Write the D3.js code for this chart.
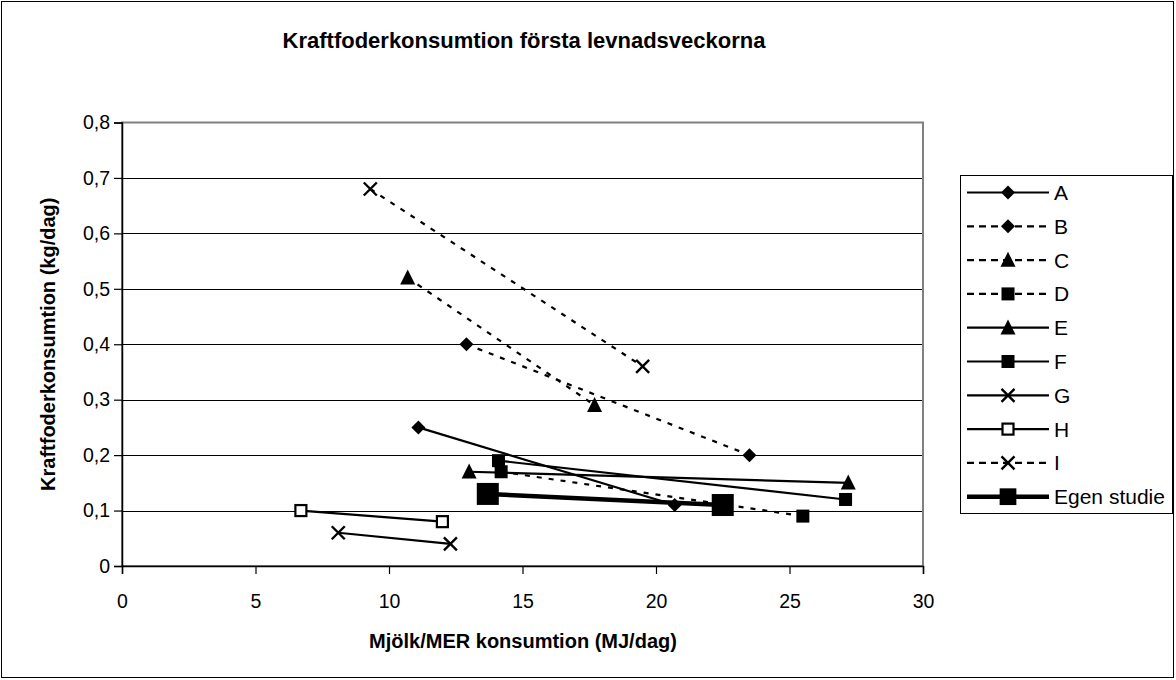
<!DOCTYPE html>
<html>
<head>
<meta charset="utf-8">
<script src="https://cdn.jsdelivr.net/npm/d3@7"></script>
<style>
  html, body { margin: 0; padding: 0; background: #fff; }
  svg { display: block; font-family: "Liberation Sans", Arial, sans-serif; }
</style>
</head>
<body>
<svg id="chart" width="1176" height="680"></svg>
<script>
// ---------- data ----------
const seriesNames = ["A", "B", "C", "D", "E", "F", "G", "H", "I", "Egen studie"];
const seriesX = [
  [11.1, 20.7],
  [12.9, 23.5],
  [10.7, 17.7],
  [14.2, 25.5],
  [13.0, 27.2],
  [14.1, 27.1],
  [8.1, 12.3],
  [6.7, 12.0],
  [9.3, 19.5],
  [13.7, 22.5]
];
const seriesY = [
  [0.25, 0.11],
  [0.40, 0.20],
  [0.52, 0.29],
  [0.17, 0.09],
  [0.17, 0.15],
  [0.19, 0.12],
  [0.06, 0.04],
  [0.10, 0.08],
  [0.68, 0.36],
  [0.13, 0.11]
];
const xTicks = [0, 5, 10, 15, 20, 25, 30];
const yTicks = [0, 0.1, 0.2, 0.3, 0.4, 0.5, 0.6, 0.7, 0.8];
const yTickLabels = ["0", "0,1", "0,2", "0,3", "0,4", "0,5", "0,6", "0,7", "0,8"];
const titleText = "Kraftfoderkonsumtion första levnadsveckorna";
const xTitle = "Mjölk/MER konsumtion (MJ/dag)";
const yTitle = "Kraftfoderkonsumtion (kg/dag)";

// ---------- styles (not data) ----------
const markerType = ["diamond", "diamond", "triangle", "square", "triangle", "square", "cross", "hollowSquare", "cross", "bigSquare"];
const dashed = [false, true, true, true, false, false, false, false, true, false];
const FONT = "'Liberation Sans', Arial, sans-serif";

// ---------- layout ----------
const svg = d3.select("#chart");
const plot = { left: 122, top: 122.5, right: 923, bottom: 566 };

const x = d3.scaleLinear().domain([0, 30]).range([plot.left, plot.right]);
const y = d3.scaleLinear().domain([0, 0.8]).range([plot.bottom, plot.top]);

// outer frame
svg.append("rect").attr("x", 1.5).attr("y", 1.5).attr("width", 1172).attr("height", 676)
  .attr("fill", "#fff").attr("stroke", "#000").attr("stroke-width", 1);

// title
svg.append("text").attr("x", 524).attr("y", 48).attr("text-anchor", "middle")
  .attr("font-size", 22).attr("font-weight", "bold").text(titleText);

// gridlines
svg.append("g").selectAll("line").data(yTicks.filter(d => d > 0 && d < 0.8)).join("line")
  .attr("x1", plot.left).attr("x2", plot.right)
  .attr("y1", d => Math.round(y(d)) + 0.5).attr("y2", d => Math.round(y(d)) + 0.5)
  .attr("stroke", "#000").attr("stroke-width", 1.2);

// plot border (grey)
svg.append("rect").attr("x", plot.left).attr("y", plot.top)
  .attr("width", plot.right - plot.left).attr("height", plot.bottom - plot.top)
  .attr("fill", "none").attr("stroke", "#808080").attr("stroke-width", 2);

// axes
const yAxis = d3.axisLeft(y).tickValues(yTicks)
  .tickFormat((d, i) => yTickLabels[i]).tickSize(8).tickPadding(4);
const gy = svg.append("g").attr("transform", `translate(${plot.left},0)`).call(yAxis);
gy.attr("font-size", 19.5).attr("font-family", FONT);
gy.select(".domain").attr("stroke", "#000").attr("stroke-width", 1.5);
gy.selectAll(".tick line").attr("stroke", "#000").attr("stroke-width", 1.2);
gy.selectAll(".tick text").attr("fill", "#000");

const xAxis = d3.axisBottom(x).tickValues(xTicks).tickSize(8).tickPadding(20);
const gx = svg.append("g").attr("transform", `translate(0,${plot.bottom})`).call(xAxis);
gx.attr("font-size", 19.5).attr("font-family", FONT);
gx.select(".domain").attr("stroke", "#000").attr("stroke-width", 1.5);
gx.selectAll(".tick line").attr("stroke", "#000").attr("stroke-width", 1.2);
gx.selectAll(".tick text").attr("fill", "#000");

// axis titles
svg.append("text").attr("x", 523).attr("y", 648).attr("text-anchor", "middle")
  .attr("font-size", 20).attr("font-weight", "bold").text(xTitle);
svg.append("text").attr("transform", `translate(55,${(plot.top + plot.bottom) / 2}) rotate(-90)`)
  .attr("text-anchor", "middle").attr("font-size", 20).attr("font-weight", "bold").text(yTitle);

// ---------- markers ----------
function drawMarker(g, type, cx, cy, scale) {
  const s = scale;
  if (type === "diamond") {
    const r = 7 * s;
    g.append("path").attr("d", `M${cx},${cy - r}L${cx + r},${cy}L${cx},${cy + r}L${cx - r},${cy}Z`).attr("fill", "#000");
  } else if (type === "triangle") {
    const w = 7.5 * s, h = 15 * s;
    g.append("path").attr("d", `M${cx},${cy - h * 0.55}L${cx + w},${cy + h * 0.45}L${cx - w},${cy + h * 0.45}Z`).attr("fill", "#000");
  } else if (type === "square") {
    const r = 6.5 * s;
    g.append("rect").attr("x", cx - r).attr("y", cy - r).attr("width", 2 * r).attr("height", 2 * r).attr("fill", "#000");
  } else if (type === "bigSquare") {
    const r = 11 * s;
    g.append("rect").attr("x", cx - r).attr("y", cy - r).attr("width", 2 * r).attr("height", 2 * r).attr("fill", "#000");
  } else if (type === "hollowSquare") {
    const r = 5.5 * s;
    g.append("rect").attr("x", cx - r).attr("y", cy - r).attr("width", 2 * r).attr("height", 2 * r)
      .attr("fill", "#fff").attr("stroke", "#000").attr("stroke-width", 2.2);
  } else if (type === "cross") {
    const r = 6.5 * s;
    g.append("path").attr("d", `M${cx - r},${cy - r}L${cx + r},${cy + r}M${cx - r},${cy + r}L${cx + r},${cy - r}`)
      .attr("stroke", "#000").attr("stroke-width", 2.4).attr("fill", "none");
  }
}

// ---------- series ----------
const line = d3.line().x(d => x(d[0])).y(d => y(d[1]));
const gSeries = svg.append("g");
seriesNames.forEach((name, i) => {
  const pts = seriesX[i].map((xv, j) => [xv, seriesY[i][j]]);
  const isEgen = markerType[i] === "bigSquare";
  gSeries.append("path").datum(pts).attr("d", line)
    .attr("fill", "none").attr("stroke", "#000")
    .attr("stroke-width", isEgen ? 4.5 : 2.2)
    .attr("stroke-dasharray", dashed[i] ? "5,7" : null);
});
seriesNames.forEach((name, i) => {
  seriesX[i].forEach((xv, j) => drawMarker(gSeries, markerType[i], x(xv), y(seriesY[i][j]), 1));
});

// ---------- legend ----------
const lg = svg.append("g");
lg.append("rect").attr("x", 960.5).attr("y", 175.5).attr("width", 212).attr("height", 338)
  .attr("fill", "#fff").attr("stroke", "#000").attr("stroke-width", 1);
seriesNames.forEach((name, i) => {
  const ly = 192.5 + i * 33.8;
  const isEgen = markerType[i] === "bigSquare";
  lg.append("line").attr("x1", 967).attr("x2", 1049).attr("y1", ly).attr("y2", ly)
    .attr("stroke", "#000").attr("stroke-width", isEgen ? 4.5 : 2.2)
    .attr("stroke-dasharray", dashed[i] ? "7,5" : null);
  drawMarker(lg, markerType[i], 1008, ly, isEgen ? 0.76 : 1);
  lg.append("text").attr("x", 1054).attr("y", ly + 7.5).attr("font-size", 21).text(name);
});
</script>
</body>
</html>
